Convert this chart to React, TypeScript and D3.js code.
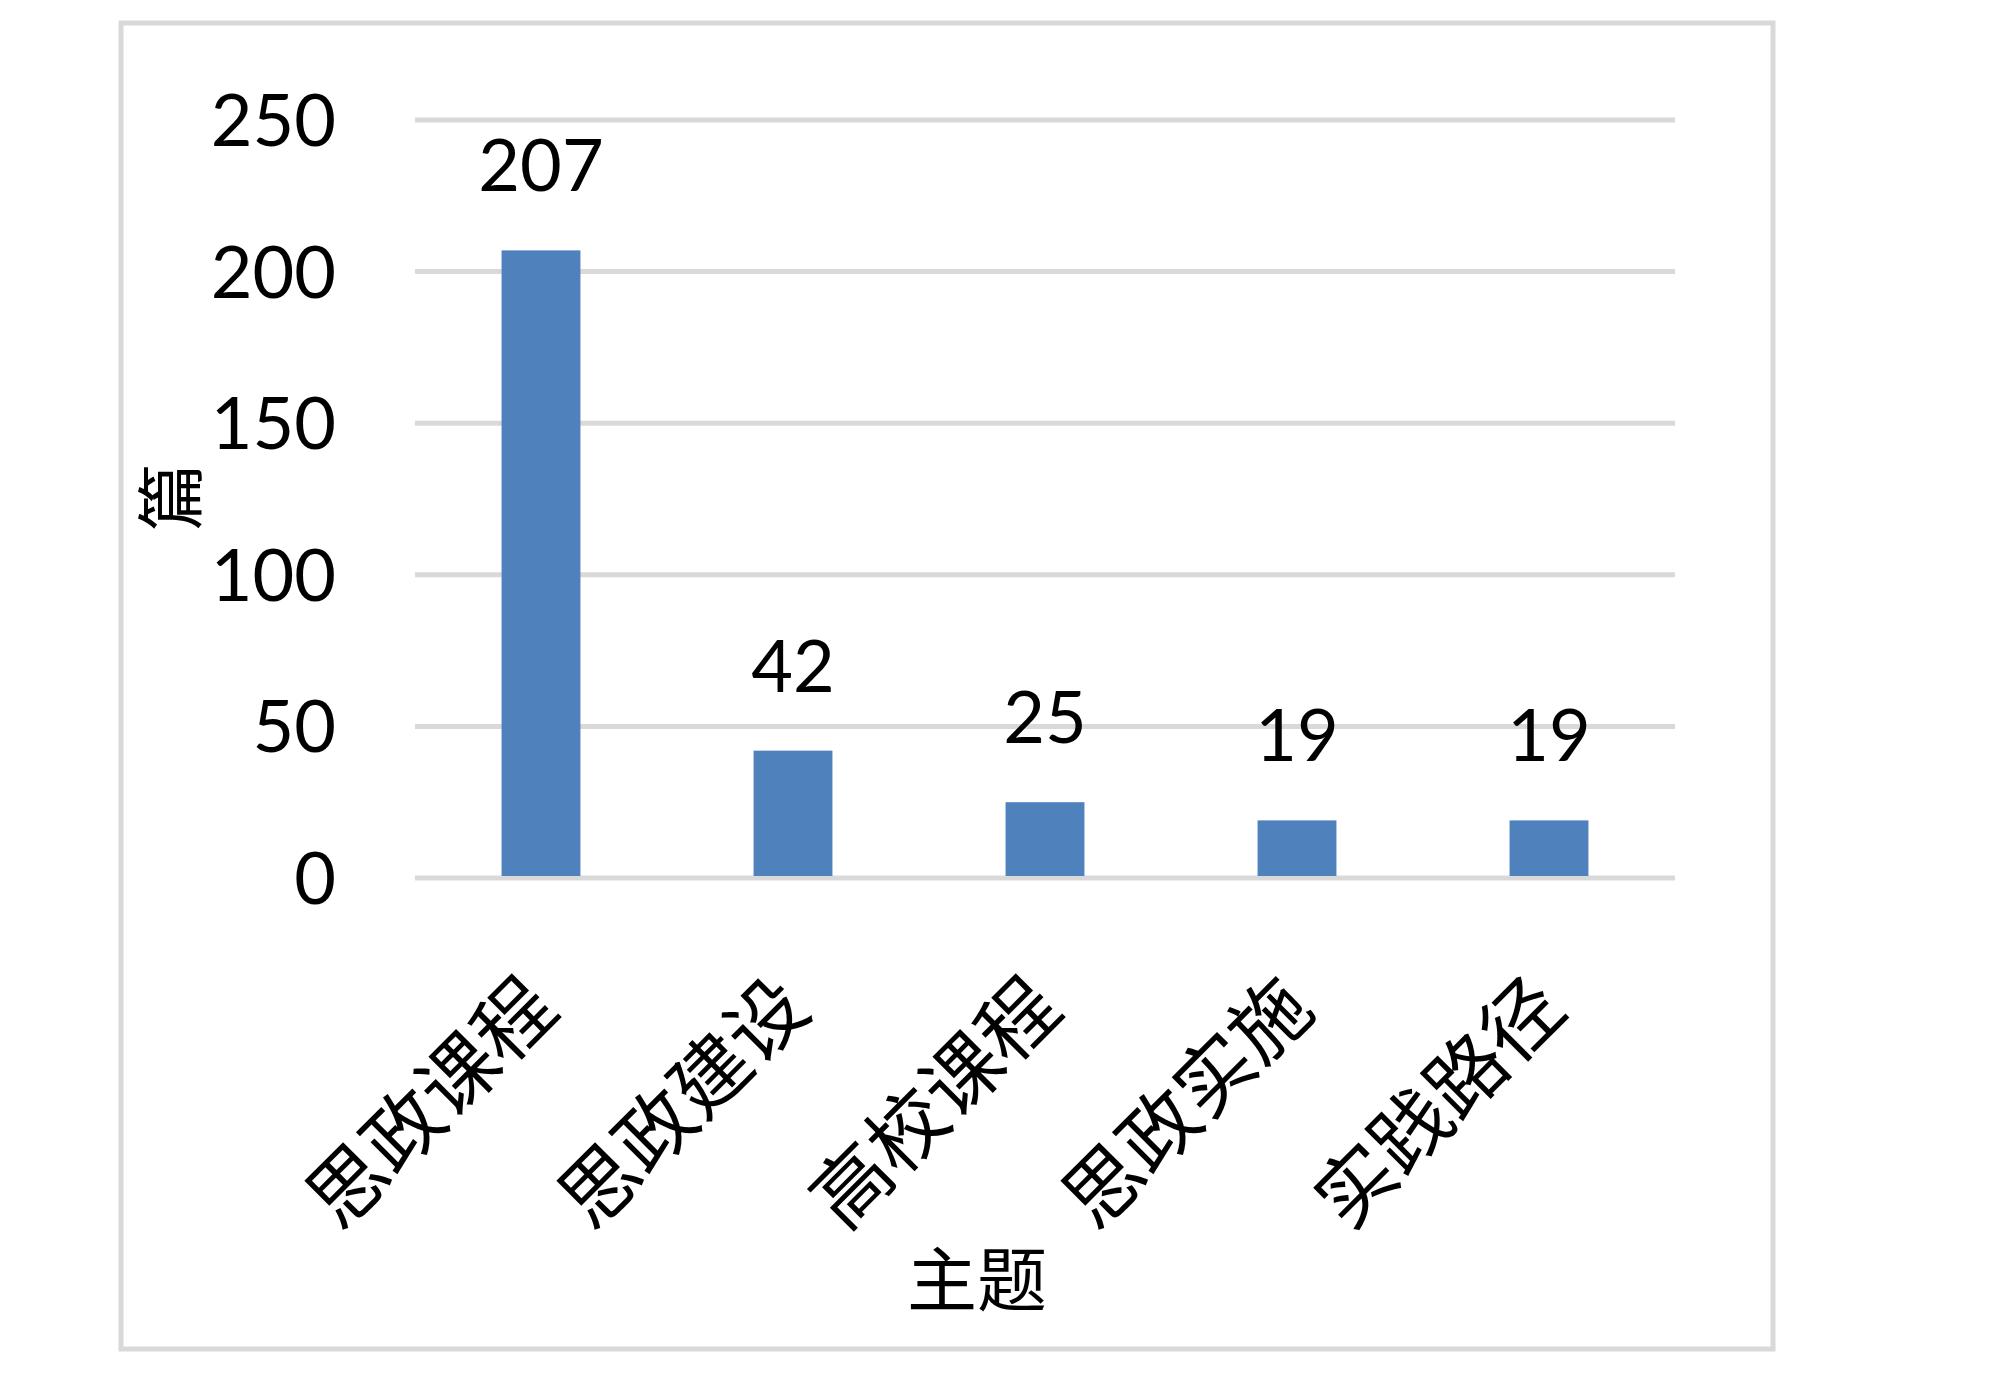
import * as d3 from "d3";

// data
const topics = ["思政课程", "思政建设", "高校课程", "思政实施", "实践路径"];
const counts = [207, 42, 25, 19, 19];
const yTicks = [0, 50, 100, 150, 200, 250];

const W = 2000;
const H = 1389;
const plot = { left: 415, right: 1675, top: 120, bottom: 878 };

const numFont = "Lato, 'Open Sans', sans-serif";
const cjkFont = "'Noto Sans CJK SC', sans-serif";
const grid = "#d9d9d9";
const barColor = "#4f81bd";

export default function App() {
  const x = d3.scaleBand<string>().domain(topics).range([plot.left, plot.right]);
  const y = d3.scaleLinear().domain([0, 250]).range([plot.bottom, plot.top]);
  const barW = x.bandwidth() * 0.313;

  return (
    <div style={{ position: "absolute", left: 0, top: 0, background: "#fff" }}>
      <svg width={W} height={H} viewBox={`0 0 ${W} ${H}`}>
        <rect x={0} y={0} width={W} height={H} fill="#fff" />
        {/* chart frame */}
        <rect x={121} y={23} width={1652} height={1326} fill="none" stroke={grid} strokeWidth={5} />

        {/* gridlines + y tick labels */}
        {yTicks.map((t) => (
          <g key={t}>
            <line x1={plot.left} x2={plot.right} y1={y(t)} y2={y(t)} stroke={grid} strokeWidth={5} />
            <text
              x={336}
              y={y(t)}
              dy="0.36em"
              textAnchor="end"
              fontFamily={numFont}
              fontSize={72}
              fill="#000"
            >
              {t}
            </text>
          </g>
        ))}

        {/* bars */}
        {topics.map((k, i) => {
          const cx = (x(k) ?? 0) + x.bandwidth() / 2;
          return (
            <g key={k}>
              <rect
                x={cx - barW / 2}
                y={y(counts[i])}
                width={barW}
                height={y(0) - y(counts[i]) - 2}
                fill={barColor}
              />
              <text
                x={cx}
                y={y(counts[i]) - 59}
                textAnchor="middle"
                fontFamily={numFont}
                fontSize={72}
                fill="#000"
              >
                {counts[i]}
              </text>
              <text
                transform={`translate(${cx + 20},${1012}) rotate(-45)`}
                textAnchor="end"
                fontFamily={cjkFont}
                fontSize={78}
                fill="#000"
              >
                {k}
              </text>
            </g>
          );
        })}

        {/* axis titles */}
        <text
          transform={`translate(196,497) rotate(-90)`}
          textAnchor="middle"
          fontFamily={cjkFont}
          fontSize={68}
          fill="#000"
        >
          篇
        </text>
        <text x={977} y={1306} textAnchor="middle" fontFamily={cjkFont} fontSize={70} fill="#000">
          主题
        </text>
      </svg>
    </div>
  );
}
